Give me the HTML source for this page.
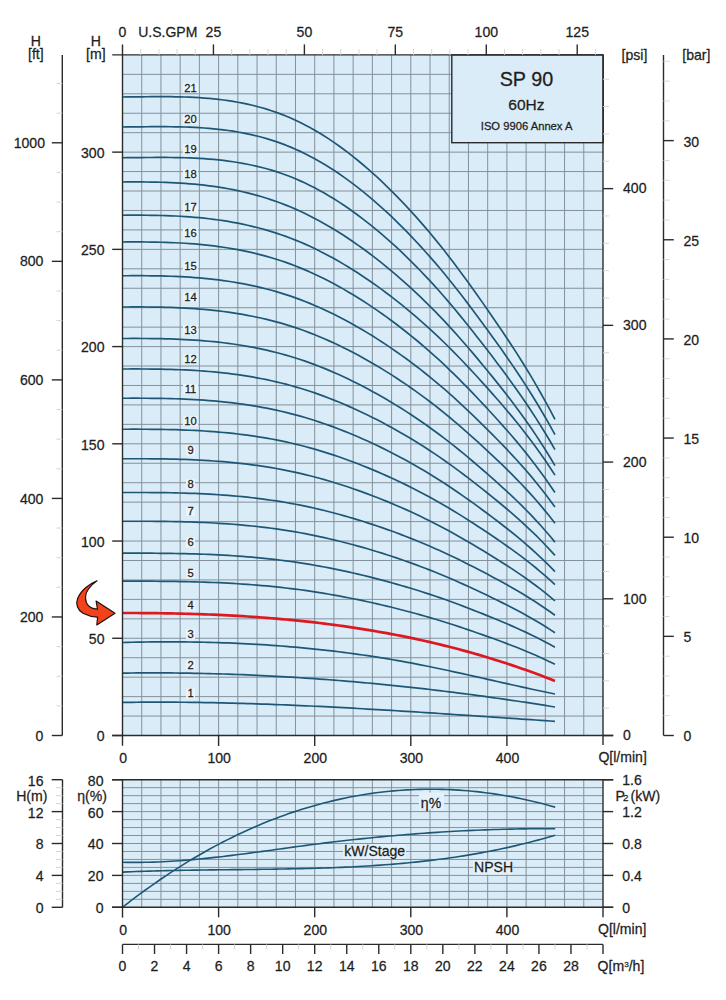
<!DOCTYPE html>
<html><head><meta charset="utf-8"><title>SP 90 60Hz</title>
<style>
html,body{margin:0;padding:0;background:#fff;}
body{width:726px;height:1000px;overflow:hidden;font-family:"Liberation Sans",sans-serif;}
svg{display:block;}
</style></head><body>
<svg width="726" height="1000" viewBox="0 0 726 1000" font-family="'Liberation Sans', sans-serif">
<rect width="726" height="1000" fill="#fff"/>
<rect x="122.5" y="54.9" width="480.5" height="680.6" fill="#daecf7"/>
<path d="M141.72 54.90V735.50M160.94 54.90V735.50M180.16 54.90V735.50M199.38 54.90V735.50M218.60 54.90V735.50M237.82 54.90V735.50M257.04 54.90V735.50M276.26 54.90V735.50M295.48 54.90V735.50M314.70 54.90V735.50M333.92 54.90V735.50M353.14 54.90V735.50M372.36 54.90V735.50M391.58 54.90V735.50M410.80 54.90V735.50M430.02 54.90V735.50M449.24 54.90V735.50M468.46 54.90V735.50M487.68 54.90V735.50M506.90 54.90V735.50M526.12 54.90V735.50M545.34 54.90V735.50M564.56 54.90V735.50M583.78 54.90V735.50M122.50 716.05H603.00M122.50 696.61H603.00M122.50 677.16H603.00M122.50 657.72H603.00M122.50 638.27H603.00M122.50 618.83H603.00M122.50 599.38H603.00M122.50 579.93H603.00M122.50 560.49H603.00M122.50 541.04H603.00M122.50 521.60H603.00M122.50 502.15H603.00M122.50 482.71H603.00M122.50 463.26H603.00M122.50 443.81H603.00M122.50 424.37H603.00M122.50 404.92H603.00M122.50 385.48H603.00M122.50 366.03H603.00M122.50 346.59H603.00M122.50 327.14H603.00M122.50 307.69H603.00M122.50 288.25H603.00M122.50 268.80H603.00M122.50 249.36H603.00M122.50 229.91H603.00M122.50 210.47H603.00M122.50 191.02H603.00M122.50 171.57H603.00M122.50 152.13H603.00M122.50 132.68H603.00M122.50 113.24H603.00M122.50 93.79H603.00M122.50 74.35H603.00" stroke="#83919c" stroke-width="1" fill="none"/>
<polyline points="122.50,702.40 127.31,702.33 132.11,702.28 136.91,702.23 141.72,702.19 146.53,702.16 151.33,702.14 156.13,702.14 160.94,702.14 165.75,702.14 170.55,702.16 175.35,702.19 180.16,702.23 184.97,702.27 189.77,702.32 194.57,702.38 199.38,702.45 204.19,702.53 208.99,702.61 213.80,702.71 218.60,702.81 223.41,702.92 228.21,703.03 233.01,703.15 237.82,703.29 242.62,703.42 247.43,703.57 252.23,703.72 257.04,703.87 261.85,704.04 266.65,704.21 271.45,704.39 276.26,704.57 281.06,704.76 285.87,704.95 290.67,705.15 295.48,705.36 300.28,705.57 305.09,705.79 309.89,706.01 314.70,706.24 319.50,706.47 324.31,706.70 329.12,706.95 333.92,707.19 338.73,707.44 343.53,707.70 348.33,707.96 353.14,708.22 357.94,708.49 362.75,708.76 367.55,709.04 372.36,709.32 377.16,709.60 381.97,709.88 386.77,710.17 391.58,710.46 396.38,710.76 401.19,711.06 406.00,711.36 410.80,711.66 415.60,711.96 420.41,712.27 425.21,712.58 430.02,712.89 434.82,713.21 439.63,713.52 444.44,713.84 449.24,714.16 454.05,714.48 458.85,714.80 463.65,715.12 468.46,715.45 473.26,715.77 478.07,716.10 482.88,716.42 487.68,716.75 492.49,717.07 497.29,717.40 502.09,717.73 506.90,718.06 511.70,718.38 516.51,718.71 521.32,719.04 526.12,719.36 530.92,719.69 535.73,720.01 540.53,720.34 545.34,720.66 550.14,720.98 554.95,721.30" fill="none" stroke="#1e5776" stroke-width="1.7" stroke-linejoin="round"/><polyline points="122.50,673.10 127.31,673.04 132.11,672.99 136.91,672.95 141.72,672.92 146.53,672.90 151.33,672.89 156.13,672.90 160.94,672.91 165.75,672.93 170.55,672.97 175.35,673.01 180.16,673.07 184.97,673.13 189.77,673.21 194.57,673.29 199.38,673.39 204.19,673.50 208.99,673.61 213.80,673.74 218.60,673.88 223.41,674.02 228.21,674.18 233.01,674.35 237.82,674.52 242.62,674.71 247.43,674.91 252.23,675.12 257.04,675.33 261.85,675.56 266.65,675.80 271.45,676.04 276.26,676.30 281.06,676.57 285.87,676.84 290.67,677.13 295.48,677.42 300.28,677.73 305.09,678.04 309.89,678.37 314.70,678.70 319.50,679.04 324.31,679.40 329.12,679.76 333.92,680.13 338.73,680.51 343.53,680.90 348.33,681.30 353.14,681.71 357.94,682.13 362.75,682.56 367.55,683.00 372.36,683.45 377.16,683.90 381.97,684.37 386.77,684.84 391.58,685.32 396.38,685.82 401.19,686.32 406.00,686.83 410.80,687.35 415.60,687.88 420.41,688.42 425.21,688.96 430.02,689.52 434.82,690.08 439.63,690.66 444.44,691.24 449.24,691.83 454.05,692.43 458.85,693.04 463.65,693.65 468.46,694.28 473.26,694.91 478.07,695.56 482.88,696.21 487.68,696.87 492.49,697.54 497.29,698.22 502.09,698.90 506.90,699.60 511.70,700.30 516.51,701.01 521.32,701.73 526.12,702.46 530.92,703.19 535.73,703.94 540.53,704.69 545.34,705.45 550.14,706.22 554.95,707.00" fill="none" stroke="#1e5776" stroke-width="1.7" stroke-linejoin="round"/><polyline points="122.50,642.50 127.31,642.38 132.11,642.26 136.91,642.16 141.72,642.08 146.53,642.01 151.33,641.95 156.13,641.90 160.94,641.87 165.75,641.85 170.55,641.85 175.35,641.86 180.16,641.89 184.97,641.93 189.77,641.98 194.57,642.05 199.38,642.13 204.19,642.23 208.99,642.35 213.80,642.48 218.60,642.62 223.41,642.78 228.21,642.96 233.01,643.15 237.82,643.36 242.62,643.59 247.43,643.83 252.23,644.09 257.04,644.36 261.85,644.66 266.65,644.97 271.45,645.29 276.26,645.64 281.06,646.00 285.87,646.38 290.67,646.78 295.48,647.19 300.28,647.62 305.09,648.08 309.89,648.55 314.70,649.03 319.50,649.54 324.31,650.07 329.12,650.61 333.92,651.18 338.73,651.76 343.53,652.37 348.33,652.99 353.14,653.63 357.94,654.30 362.75,654.98 367.55,655.68 372.36,656.41 377.16,657.15 381.97,657.92 386.77,658.70 391.58,659.51 396.38,660.34 401.19,661.19 406.00,662.06 410.80,662.95 415.60,663.87 420.41,664.80 425.21,665.76 430.02,666.73 434.82,667.72 439.63,668.72 444.44,669.74 449.24,670.77 454.05,671.81 458.85,672.86 463.65,673.92 468.46,674.99 473.26,676.07 478.07,677.14 482.88,678.23 487.68,679.31 492.49,680.40 497.29,681.48 502.09,682.57 506.90,683.65 511.70,684.72 516.51,685.79 521.32,686.86 526.12,687.91 530.92,688.96 535.73,689.99 540.53,691.02 545.34,692.03 550.14,693.02 554.95,694.00" fill="none" stroke="#1e5776" stroke-width="1.7" stroke-linejoin="round"/><polyline points="122.50,581.20 127.31,581.19 132.11,581.19 136.91,581.19 141.72,581.19 146.53,581.20 151.33,581.22 156.13,581.24 160.94,581.28 165.75,581.32 170.55,581.38 175.35,581.45 180.16,581.53 184.97,581.62 189.77,581.73 194.57,581.85 199.38,581.99 204.19,582.14 208.99,582.31 213.80,582.50 218.60,582.71 223.41,582.94 228.21,583.18 233.01,583.45 237.82,583.74 242.62,584.05 247.43,584.39 252.23,584.74 257.04,585.12 261.85,585.53 266.65,585.96 271.45,586.42 276.26,586.91 281.06,587.42 285.87,587.97 290.67,588.54 295.48,589.14 300.28,589.78 305.09,590.44 309.89,591.14 314.70,591.86 319.50,592.62 324.31,593.40 329.12,594.22 333.92,595.06 338.73,595.93 343.53,596.83 348.33,597.75 353.14,598.71 357.94,599.69 362.75,600.69 367.55,601.73 372.36,602.79 377.16,603.87 381.97,604.99 386.77,606.13 391.58,607.29 396.38,608.49 401.19,609.71 406.00,610.95 410.80,612.23 415.60,613.53 420.41,614.86 425.21,616.23 430.02,617.62 434.82,619.04 439.63,620.49 444.44,621.97 449.24,623.49 454.05,625.03 458.85,626.61 463.65,628.22 468.46,629.85 473.26,631.50 478.07,633.18 482.88,634.87 487.68,636.58 492.49,638.31 497.29,640.05 502.09,641.82 506.90,643.62 511.70,645.45 516.51,647.32 521.32,649.24 526.12,651.20 530.92,653.22 535.73,655.30 540.53,657.44 545.34,659.65 550.14,661.94 554.95,664.30" fill="none" stroke="#1e5776" stroke-width="1.7" stroke-linejoin="round"/><polyline points="122.50,553.20 127.31,553.19 132.11,553.18 136.91,553.18 141.72,553.19 146.53,553.20 151.33,553.22 156.13,553.25 160.94,553.29 165.75,553.34 170.55,553.40 175.35,553.48 180.16,553.57 184.97,553.68 189.77,553.80 194.57,553.93 199.38,554.09 204.19,554.26 208.99,554.46 213.80,554.67 218.60,554.91 223.41,555.16 228.21,555.44 233.01,555.75 237.82,556.07 242.62,556.42 247.43,556.80 252.23,557.21 257.04,557.64 261.85,558.10 266.65,558.59 271.45,559.11 276.26,559.66 281.06,560.24 285.87,560.85 290.67,561.50 295.48,562.19 300.28,562.90 305.09,563.66 309.89,564.44 314.70,565.26 319.50,566.12 324.31,567.01 329.12,567.93 333.92,568.88 338.73,569.86 343.53,570.88 348.33,571.92 353.14,573.00 357.94,574.11 362.75,575.25 367.55,576.42 372.36,577.62 377.16,578.85 381.97,580.11 386.77,581.40 391.58,582.72 396.38,584.07 401.19,585.45 406.00,586.86 410.80,588.30 415.60,589.77 420.41,591.28 425.21,592.82 430.02,594.39 434.82,596.00 439.63,597.64 444.44,599.32 449.24,601.03 454.05,602.78 458.85,604.57 463.65,606.38 468.46,608.23 473.26,610.10 478.07,611.99 482.88,613.91 487.68,615.85 492.49,617.80 497.29,619.77 502.09,621.77 506.90,623.81 511.70,625.88 516.51,628.00 521.32,630.16 526.12,632.39 530.92,634.67 535.73,637.02 540.53,639.44 545.34,641.94 550.14,644.53 554.95,647.20" fill="none" stroke="#1e5776" stroke-width="1.7" stroke-linejoin="round"/><polyline points="122.50,521.25 127.31,521.24 132.11,521.23 136.91,521.23 141.72,521.24 146.53,521.25 151.33,521.27 156.13,521.31 160.94,521.36 165.75,521.42 170.55,521.49 175.35,521.58 180.16,521.69 184.97,521.81 189.77,521.96 194.57,522.12 199.38,522.31 204.19,522.51 208.99,522.74 213.80,523.00 218.60,523.28 223.41,523.58 228.21,523.91 233.01,524.27 237.82,524.66 242.62,525.08 247.43,525.53 252.23,526.01 257.04,526.52 261.85,527.06 266.65,527.65 271.45,528.26 276.26,528.91 281.06,529.60 285.87,530.33 290.67,531.10 295.48,531.91 300.28,532.76 305.09,533.66 309.89,534.59 314.70,535.57 319.50,536.58 324.31,537.63 329.12,538.72 333.92,539.85 338.73,541.02 343.53,542.23 348.33,543.47 353.14,544.75 357.94,546.06 362.75,547.42 367.55,548.80 372.36,550.23 377.16,551.69 381.97,553.18 386.77,554.71 391.58,556.28 396.38,557.88 401.19,559.52 406.00,561.19 410.80,562.90 415.60,564.65 420.41,566.44 425.21,568.27 430.02,570.13 434.82,572.04 439.63,573.99 444.44,575.98 449.24,578.02 454.05,580.09 458.85,582.21 463.65,584.36 468.46,586.55 473.26,588.77 478.07,591.02 482.88,593.30 487.68,595.59 492.49,597.91 497.29,600.25 502.09,602.62 506.90,605.04 511.70,607.50 516.51,610.01 521.32,612.58 526.12,615.22 530.92,617.93 535.73,620.72 540.53,623.60 545.34,626.56 550.14,629.63 554.95,632.80" fill="none" stroke="#1e5776" stroke-width="1.7" stroke-linejoin="round"/><polyline points="122.50,492.50 127.31,492.49 132.11,492.48 136.91,492.48 141.72,492.49 146.53,492.50 151.33,492.53 156.13,492.57 160.94,492.62 165.75,492.68 170.55,492.77 175.35,492.87 180.16,492.98 184.97,493.12 189.77,493.28 194.57,493.46 199.38,493.66 204.19,493.89 208.99,494.14 213.80,494.42 218.60,494.73 223.41,495.07 228.21,495.43 233.01,495.83 237.82,496.25 242.62,496.71 247.43,497.21 252.23,497.74 257.04,498.30 261.85,498.90 266.65,499.54 271.45,500.22 276.26,500.94 281.06,501.70 285.87,502.50 290.67,503.35 295.48,504.24 300.28,505.18 305.09,506.16 309.89,507.19 314.70,508.26 319.50,509.38 324.31,510.53 329.12,511.74 333.92,512.98 338.73,514.27 343.53,515.59 348.33,516.96 353.14,518.37 357.94,519.82 362.75,521.30 367.55,522.83 372.36,524.40 377.16,526.01 381.97,527.65 386.77,529.34 391.58,531.06 396.38,532.82 401.19,534.63 406.00,536.47 410.80,538.35 415.60,540.28 420.41,542.25 425.21,544.26 430.02,546.31 434.82,548.41 439.63,550.56 444.44,552.75 449.24,554.99 454.05,557.28 458.85,559.61 463.65,561.98 468.46,564.39 473.26,566.83 478.07,569.31 482.88,571.81 487.68,574.34 492.49,576.89 497.29,579.47 502.09,582.08 506.90,584.74 511.70,587.45 516.51,590.21 521.32,593.04 526.12,595.95 530.92,598.93 535.73,602.00 540.53,605.17 545.34,608.43 550.14,611.81 554.95,615.30" fill="none" stroke="#1e5776" stroke-width="1.7" stroke-linejoin="round"/><polyline points="122.50,458.75 127.31,458.74 132.11,458.73 136.91,458.73 141.72,458.73 146.53,458.75 151.33,458.78 156.13,458.83 160.94,458.89 165.75,458.96 170.55,459.06 175.35,459.17 180.16,459.31 184.97,459.47 189.77,459.65 194.57,459.86 199.38,460.10 204.19,460.36 208.99,460.65 213.80,460.98 218.60,461.33 223.41,461.72 228.21,462.14 233.01,462.60 237.82,463.09 242.62,463.63 247.43,464.20 252.23,464.81 257.04,465.46 261.85,466.16 266.65,466.90 271.45,467.68 276.26,468.52 281.06,469.40 285.87,470.33 290.67,471.31 295.48,472.34 300.28,473.42 305.09,474.56 309.89,475.75 314.70,476.99 319.50,478.28 324.31,479.63 329.12,481.02 333.92,482.46 338.73,483.95 343.53,485.48 348.33,487.06 353.14,488.69 357.94,490.37 362.75,492.09 367.55,493.86 372.36,495.68 377.16,497.54 381.97,499.44 386.77,501.39 391.58,503.39 396.38,505.43 401.19,507.51 406.00,509.65 410.80,511.83 415.60,514.06 420.41,516.34 425.21,518.66 430.02,521.04 434.82,523.47 439.63,525.96 444.44,528.50 449.24,531.09 454.05,533.73 458.85,536.43 463.65,539.18 468.46,541.97 473.26,544.80 478.07,547.66 482.88,550.56 487.68,553.48 492.49,556.44 497.29,559.42 502.09,562.45 506.90,565.52 511.70,568.66 516.51,571.86 521.32,575.14 526.12,578.50 530.92,581.95 535.73,585.51 540.53,589.17 545.34,592.95 550.14,596.86 554.95,600.90" fill="none" stroke="#1e5776" stroke-width="1.7" stroke-linejoin="round"/><polyline points="122.50,429.25 127.31,429.23 132.11,429.22 136.91,429.22 141.72,429.23 146.53,429.25 151.33,429.28 156.13,429.33 160.94,429.40 165.75,429.48 170.55,429.59 175.35,429.71 180.16,429.86 184.97,430.04 189.77,430.24 194.57,430.46 199.38,430.72 204.19,431.01 208.99,431.33 213.80,431.68 218.60,432.07 223.41,432.50 228.21,432.96 233.01,433.46 237.82,434.00 242.62,434.58 247.43,435.20 252.23,435.87 257.04,436.59 261.85,437.35 266.65,438.16 271.45,439.01 276.26,439.92 281.06,440.89 285.87,441.90 290.67,442.97 295.48,444.10 300.28,445.29 305.09,446.53 309.89,447.83 314.70,449.19 319.50,450.60 324.31,452.07 329.12,453.59 333.92,455.16 338.73,456.79 343.53,458.46 348.33,460.19 353.14,461.97 357.94,463.81 362.75,465.69 367.55,467.62 372.36,469.60 377.16,471.64 381.97,473.72 386.77,475.85 391.58,478.03 396.38,480.26 401.19,482.54 406.00,484.87 410.80,487.26 415.60,489.69 420.41,492.18 425.21,494.73 430.02,497.33 434.82,499.98 439.63,502.70 444.44,505.47 449.24,508.30 454.05,511.20 458.85,514.14 463.65,517.15 468.46,520.19 473.26,523.29 478.07,526.42 482.88,529.58 487.68,532.78 492.49,536.01 497.29,539.27 502.09,542.58 506.90,545.94 511.70,549.36 516.51,552.86 521.32,556.44 526.12,560.12 530.92,563.89 535.73,567.78 540.53,571.78 545.34,575.91 550.14,580.18 554.95,584.60" fill="none" stroke="#1e5776" stroke-width="1.7" stroke-linejoin="round"/><polyline points="122.50,398.25 127.31,398.23 132.11,398.22 136.91,398.22 141.72,398.23 146.53,398.25 151.33,398.29 156.13,398.34 160.94,398.42 165.75,398.51 170.55,398.62 175.35,398.77 180.16,398.93 184.97,399.13 189.77,399.35 194.57,399.60 199.38,399.89 204.19,400.21 208.99,400.57 213.80,400.96 218.60,401.40 223.41,401.87 228.21,402.39 233.01,402.95 237.82,403.55 242.62,404.20 247.43,404.89 252.23,405.64 257.04,406.44 261.85,407.29 266.65,408.19 271.45,409.15 276.26,410.16 281.06,411.23 285.87,412.37 290.67,413.56 295.48,414.82 300.28,416.14 305.09,417.53 309.89,418.98 314.70,420.50 319.50,422.07 324.31,423.71 329.12,425.41 333.92,427.16 338.73,428.98 343.53,430.85 348.33,432.78 353.14,434.77 357.94,436.81 362.75,438.91 367.55,441.07 372.36,443.28 377.16,445.55 381.97,447.87 386.77,450.25 391.58,452.68 396.38,455.17 401.19,457.72 406.00,460.32 410.80,462.98 415.60,465.70 420.41,468.47 425.21,471.31 430.02,474.22 434.82,477.18 439.63,480.21 444.44,483.30 449.24,486.46 454.05,489.69 458.85,492.98 463.65,496.33 468.46,499.73 473.26,503.18 478.07,506.68 482.88,510.21 487.68,513.78 492.49,517.38 497.29,521.02 502.09,524.71 506.90,528.46 511.70,532.28 516.51,536.19 521.32,540.18 526.12,544.28 530.92,548.49 535.73,552.83 540.53,557.30 545.34,561.91 550.14,566.67 554.95,571.60" fill="none" stroke="#1e5776" stroke-width="1.7" stroke-linejoin="round"/><polyline points="122.50,369.00 127.31,368.98 132.11,368.97 136.91,368.97 141.72,368.98 146.53,369.00 151.33,369.04 156.13,369.10 160.94,369.18 165.75,369.28 170.55,369.40 175.35,369.55 180.16,369.73 184.97,369.94 189.77,370.18 194.57,370.46 199.38,370.77 204.19,371.11 208.99,371.50 213.80,371.92 218.60,372.39 223.41,372.89 228.21,373.45 233.01,374.05 237.82,374.70 242.62,375.40 247.43,376.14 252.23,376.95 257.04,377.80 261.85,378.72 266.65,379.69 271.45,380.72 276.26,381.81 281.06,382.96 285.87,384.18 290.67,385.46 295.48,386.82 300.28,388.24 305.09,389.73 309.89,391.29 314.70,392.92 319.50,394.62 324.31,396.38 329.12,398.20 333.92,400.09 338.73,402.04 343.53,404.05 348.33,406.13 353.14,408.27 357.94,410.46 362.75,412.72 367.55,415.04 372.36,417.42 377.16,419.86 381.97,422.36 386.77,424.91 391.58,427.53 396.38,430.21 401.19,432.94 406.00,435.74 410.80,438.60 415.60,441.52 420.41,444.51 425.21,447.56 430.02,450.68 434.82,453.87 439.63,457.13 444.44,460.46 449.24,463.85 454.05,467.32 458.85,470.86 463.65,474.46 468.46,478.12 473.26,481.83 478.07,485.59 482.88,489.39 487.68,493.22 492.49,497.09 497.29,501.01 502.09,504.98 506.90,509.01 511.70,513.12 516.51,517.32 521.32,521.62 526.12,526.02 530.92,530.55 535.73,535.21 540.53,540.02 545.34,544.98 550.14,550.10 554.95,555.40" fill="none" stroke="#1e5776" stroke-width="1.7" stroke-linejoin="round"/><polyline points="122.50,338.50 127.31,338.48 132.11,338.47 136.91,338.46 141.72,338.48 146.53,338.50 151.33,338.54 156.13,338.61 160.94,338.69 165.75,338.80 170.55,338.94 175.35,339.11 180.16,339.30 184.97,339.53 189.77,339.79 194.57,340.09 199.38,340.43 204.19,340.81 208.99,341.23 213.80,341.69 218.60,342.20 223.41,342.75 228.21,343.36 233.01,344.01 237.82,344.72 242.62,345.49 247.43,346.30 252.23,347.18 257.04,348.12 261.85,349.11 266.65,350.17 271.45,351.30 276.26,352.49 281.06,353.75 285.87,355.08 290.67,356.48 295.48,357.96 300.28,359.52 305.09,361.15 309.89,362.85 314.70,364.63 319.50,366.48 324.31,368.40 329.12,370.39 333.92,372.46 338.73,374.59 343.53,376.79 348.33,379.05 353.14,381.39 357.94,383.79 362.75,386.26 367.55,388.79 372.36,391.39 377.16,394.05 381.97,396.78 386.77,399.57 391.58,402.43 396.38,405.36 401.19,408.34 406.00,411.40 410.80,414.52 415.60,417.72 420.41,420.98 425.21,424.31 430.02,427.72 434.82,431.20 439.63,434.76 444.44,438.40 449.24,442.11 454.05,445.90 458.85,449.76 463.65,453.69 468.46,457.69 473.26,461.74 478.07,465.85 482.88,470.00 487.68,474.19 492.49,478.41 497.29,482.69 502.09,487.02 506.90,491.43 511.70,495.92 516.51,500.51 521.32,505.20 526.12,510.01 530.92,514.96 535.73,520.05 540.53,525.30 545.34,530.72 550.14,536.31 554.95,542.10" fill="none" stroke="#1e5776" stroke-width="1.7" stroke-linejoin="round"/><polyline points="122.50,307.00 127.31,306.98 132.11,306.96 136.91,306.96 141.72,306.97 146.53,307.00 151.33,307.05 156.13,307.12 160.94,307.21 165.75,307.32 170.55,307.47 175.35,307.64 180.16,307.85 184.97,308.09 189.77,308.37 194.57,308.69 199.38,309.05 204.19,309.45 208.99,309.89 213.80,310.39 218.60,310.93 223.41,311.52 228.21,312.16 233.01,312.86 237.82,313.61 242.62,314.42 247.43,315.29 252.23,316.22 257.04,317.21 261.85,318.27 266.65,319.39 271.45,320.59 276.26,321.85 281.06,323.19 285.87,324.61 290.67,326.10 295.48,327.67 300.28,329.32 305.09,331.05 309.89,332.86 314.70,334.75 319.50,336.71 324.31,338.75 329.12,340.87 333.92,343.06 338.73,345.32 343.53,347.66 348.33,350.06 353.14,352.54 357.94,355.09 362.75,357.71 367.55,360.40 372.36,363.16 377.16,365.99 381.97,368.89 386.77,371.85 391.58,374.89 396.38,377.99 401.19,381.17 406.00,384.41 410.80,387.73 415.60,391.12 420.41,394.58 425.21,398.12 430.02,401.74 434.82,405.44 439.63,409.22 444.44,413.08 449.24,417.02 454.05,421.04 458.85,425.15 463.65,429.32 468.46,433.57 473.26,437.87 478.07,442.23 482.88,446.63 487.68,451.08 492.49,455.57 497.29,460.11 502.09,464.72 506.90,469.39 511.70,474.16 516.51,479.03 521.32,484.02 526.12,489.13 530.92,494.38 535.73,499.79 540.53,505.36 545.34,511.11 550.14,517.05 554.95,523.20" fill="none" stroke="#1e5776" stroke-width="1.7" stroke-linejoin="round"/><polyline points="122.50,275.75 127.31,275.73 132.11,275.71 136.91,275.71 141.72,275.72 146.53,275.75 151.33,275.80 156.13,275.87 160.94,275.97 165.75,276.10 170.55,276.25 175.35,276.44 180.16,276.66 184.97,276.92 189.77,277.22 194.57,277.56 199.38,277.94 204.19,278.37 208.99,278.85 213.80,279.37 218.60,279.95 223.41,280.58 228.21,281.27 233.01,282.01 237.82,282.82 242.62,283.68 247.43,284.61 252.23,285.61 257.04,286.67 261.85,287.80 266.65,289.01 271.45,290.29 276.26,291.64 281.06,293.07 285.87,294.58 290.67,296.18 295.48,297.86 300.28,299.62 305.09,301.47 309.89,303.41 314.70,305.43 319.50,307.53 324.31,309.71 329.12,311.98 333.92,314.32 338.73,316.74 343.53,319.24 348.33,321.81 353.14,324.46 357.94,327.19 362.75,329.99 367.55,332.87 372.36,335.82 377.16,338.85 381.97,341.95 386.77,345.12 391.58,348.36 396.38,351.68 401.19,355.08 406.00,358.55 410.80,362.10 415.60,365.72 420.41,369.43 425.21,373.22 430.02,377.09 434.82,381.04 439.63,385.08 444.44,389.21 449.24,393.43 454.05,397.73 458.85,402.12 463.65,406.59 468.46,411.13 473.26,415.73 478.07,420.39 482.88,425.10 487.68,429.86 492.49,434.67 497.29,439.52 502.09,444.44 506.90,449.45 511.70,454.55 516.51,459.76 521.32,465.09 526.12,470.56 530.92,476.17 535.73,481.96 540.53,487.92 545.34,494.07 550.14,500.43 554.95,507.00" fill="none" stroke="#1e5776" stroke-width="1.7" stroke-linejoin="round"/><polyline points="122.50,242.00 127.31,241.97 132.11,241.96 136.91,241.96 141.72,241.97 146.53,242.00 151.33,242.06 156.13,242.13 160.94,242.24 165.75,242.37 170.55,242.54 175.35,242.75 180.16,242.99 184.97,243.27 189.77,243.59 194.57,243.96 199.38,244.37 204.19,244.84 208.99,245.35 213.80,245.92 218.60,246.55 223.41,247.24 228.21,247.98 233.01,248.79 237.82,249.66 242.62,250.60 247.43,251.60 252.23,252.68 257.04,253.83 261.85,255.06 266.65,256.37 271.45,257.75 276.26,259.22 281.06,260.77 285.87,262.41 290.67,264.14 295.48,265.95 300.28,267.87 305.09,269.87 309.89,271.97 314.70,274.16 319.50,276.44 324.31,278.80 329.12,281.26 333.92,283.79 338.73,286.42 343.53,289.13 348.33,291.92 353.14,294.79 357.94,297.74 362.75,300.78 367.55,303.90 372.36,307.10 377.16,310.38 381.97,313.73 386.77,317.17 391.58,320.69 396.38,324.29 401.19,327.97 406.00,331.73 410.80,335.57 415.60,339.50 420.41,343.52 425.21,347.62 430.02,351.82 434.82,356.10 439.63,360.48 444.44,364.96 449.24,369.52 454.05,374.19 458.85,378.95 463.65,383.79 468.46,388.70 473.26,393.69 478.07,398.74 482.88,403.85 487.68,409.01 492.49,414.21 497.29,419.48 502.09,424.81 506.90,430.23 511.70,435.76 516.51,441.40 521.32,447.18 526.12,453.11 530.92,459.20 535.73,465.46 540.53,471.92 545.34,478.59 550.14,485.48 554.95,492.60" fill="none" stroke="#1e5776" stroke-width="1.7" stroke-linejoin="round"/><polyline points="122.50,215.25 127.31,215.22 132.11,215.21 136.91,215.21 141.72,215.22 146.53,215.25 151.33,215.31 156.13,215.39 160.94,215.50 165.75,215.64 170.55,215.81 175.35,216.02 180.16,216.27 184.97,216.56 189.77,216.90 194.57,217.28 199.38,217.71 204.19,218.19 208.99,218.73 213.80,219.32 218.60,219.97 223.41,220.68 228.21,221.45 233.01,222.29 237.82,223.19 242.62,224.16 247.43,225.21 252.23,226.33 257.04,227.52 261.85,228.79 266.65,230.15 271.45,231.58 276.26,233.10 281.06,234.71 285.87,236.41 290.67,238.20 295.48,240.09 300.28,242.07 305.09,244.15 309.89,246.33 314.70,248.60 319.50,250.96 324.31,253.41 329.12,255.96 333.92,258.59 338.73,261.31 343.53,264.11 348.33,267.01 353.14,269.99 357.94,273.05 362.75,276.20 367.55,279.43 372.36,282.75 377.16,286.15 381.97,289.63 386.77,293.20 391.58,296.85 396.38,300.58 401.19,304.39 406.00,308.29 410.80,312.28 415.60,316.35 420.41,320.52 425.21,324.77 430.02,329.12 434.82,333.57 439.63,338.11 444.44,342.74 449.24,347.48 454.05,352.32 458.85,357.25 463.65,362.27 468.46,367.37 473.26,372.54 478.07,377.78 482.88,383.08 487.68,388.42 492.49,393.82 497.29,399.28 502.09,404.81 506.90,410.43 511.70,416.16 516.51,422.01 521.32,428.00 526.12,434.15 530.92,440.46 535.73,446.96 540.53,453.66 545.34,460.57 550.14,467.71 554.95,475.10" fill="none" stroke="#1e5776" stroke-width="1.7" stroke-linejoin="round"/><polyline points="122.50,182.00 127.31,181.97 132.11,181.95 136.91,181.95 141.72,181.97 146.53,182.00 151.33,182.06 156.13,182.15 160.94,182.27 165.75,182.42 170.55,182.61 175.35,182.84 180.16,183.12 184.97,183.43 189.77,183.80 194.57,184.22 199.38,184.69 204.19,185.21 208.99,185.80 213.80,186.44 218.60,187.15 223.41,187.92 228.21,188.77 233.01,189.68 237.82,190.67 242.62,191.73 247.43,192.87 252.23,194.09 257.04,195.39 261.85,196.78 266.65,198.26 271.45,199.83 276.26,201.49 281.06,203.24 285.87,205.10 290.67,207.05 295.48,209.11 300.28,211.27 305.09,213.55 309.89,215.92 314.70,218.40 319.50,220.97 324.31,223.65 329.12,226.43 333.92,229.30 338.73,232.27 343.53,235.33 348.33,238.49 353.14,241.74 357.94,245.09 362.75,248.52 367.55,252.05 372.36,255.67 377.16,259.38 381.97,263.18 386.77,267.07 391.58,271.05 396.38,275.12 401.19,279.29 406.00,283.54 410.80,287.90 415.60,292.34 420.41,296.89 425.21,301.53 430.02,306.28 434.82,311.13 439.63,316.08 444.44,321.15 449.24,326.32 454.05,331.60 458.85,336.98 463.65,342.46 468.46,348.02 473.26,353.67 478.07,359.38 482.88,365.17 487.68,371.00 492.49,376.89 497.29,382.85 502.09,388.88 506.90,395.02 511.70,401.27 516.51,407.66 521.32,414.20 526.12,420.91 530.92,427.80 535.73,434.89 540.53,442.20 545.34,449.74 550.14,457.54 554.95,465.60" fill="none" stroke="#1e5776" stroke-width="1.7" stroke-linejoin="round"/><polyline points="122.50,157.75 127.31,157.71 132.11,157.67 136.91,157.62 141.72,157.57 146.53,157.52 151.33,157.49 156.13,157.46 160.94,157.45 165.75,157.46 170.55,157.49 175.35,157.55 180.16,157.64 184.97,157.76 189.77,157.93 194.57,158.13 199.38,158.38 204.19,158.68 208.99,159.03 213.80,159.44 218.60,159.91 223.41,160.45 228.21,161.05 233.01,161.72 237.82,162.47 242.62,163.30 247.43,164.22 252.23,165.22 257.04,166.31 261.85,167.50 266.65,168.78 271.45,170.17 276.26,171.66 281.06,173.27 285.87,174.98 290.67,176.82 295.48,178.78 300.28,180.86 305.09,183.06 309.89,185.39 314.70,187.84 319.50,190.41 324.31,193.10 329.12,195.91 333.92,198.84 338.73,201.88 343.53,205.04 348.33,208.32 353.14,211.71 357.94,215.22 362.75,218.84 367.55,222.57 372.36,226.41 377.16,230.36 381.97,234.42 386.77,238.59 391.58,242.86 396.38,247.24 401.19,251.73 406.00,256.32 410.80,261.03 415.60,265.84 420.41,270.76 425.21,275.79 430.02,280.93 434.82,286.18 439.63,291.54 444.44,297.01 449.24,302.60 454.05,308.30 458.85,314.10 463.65,320.00 468.46,325.98 473.26,332.04 478.07,338.16 482.88,344.34 487.68,350.58 492.49,356.85 497.29,363.18 502.09,369.58 506.90,376.08 511.70,382.68 516.51,389.40 521.32,396.26 526.12,403.28 530.92,410.47 535.73,417.85 540.53,425.43 545.34,433.24 550.14,441.29 554.95,449.60" fill="none" stroke="#1e5776" stroke-width="1.7" stroke-linejoin="round"/><polyline points="122.50,127.00 127.31,126.96 132.11,126.91 136.91,126.86 141.72,126.81 146.53,126.76 151.33,126.72 156.13,126.69 160.94,126.68 165.75,126.69 170.55,126.73 175.35,126.79 180.16,126.89 184.97,127.02 189.77,127.19 194.57,127.40 199.38,127.66 204.19,127.98 208.99,128.35 213.80,128.78 218.60,129.28 223.41,129.84 228.21,130.48 233.01,131.19 237.82,131.98 242.62,132.86 247.43,133.82 252.23,134.87 257.04,136.03 261.85,137.28 266.65,138.63 271.45,140.09 276.26,141.67 281.06,143.36 285.87,145.17 290.67,147.10 295.48,149.17 300.28,151.36 305.09,153.68 309.89,156.14 314.70,158.72 319.50,161.43 324.31,164.27 329.12,167.23 333.92,170.32 338.73,173.53 343.53,176.86 348.33,180.32 353.14,183.89 357.94,187.59 362.75,191.41 367.55,195.34 372.36,199.39 377.16,203.55 381.97,207.83 386.77,212.23 391.58,216.73 396.38,221.35 401.19,226.08 406.00,230.93 410.80,235.89 415.60,240.96 420.41,246.14 425.21,251.45 430.02,256.87 434.82,262.40 439.63,268.05 444.44,273.83 449.24,279.72 454.05,285.72 458.85,291.84 463.65,298.06 468.46,304.36 473.26,310.75 478.07,317.21 482.88,323.73 487.68,330.30 492.49,336.91 497.29,343.59 502.09,350.34 506.90,357.18 511.70,364.14 516.51,371.23 521.32,378.46 526.12,385.86 530.92,393.44 535.73,401.22 540.53,409.22 545.34,417.46 550.14,425.94 554.95,434.70" fill="none" stroke="#1e5776" stroke-width="1.7" stroke-linejoin="round"/><polyline points="122.50,97.00 127.31,96.96 132.11,96.91 136.91,96.85 141.72,96.80 146.53,96.75 151.33,96.71 156.13,96.68 160.94,96.67 165.75,96.68 170.55,96.72 175.35,96.78 180.16,96.88 184.97,97.02 189.77,97.20 194.57,97.42 199.38,97.70 204.19,98.03 208.99,98.42 213.80,98.87 218.60,99.39 223.41,99.98 228.21,100.64 233.01,101.39 237.82,102.22 242.62,103.14 247.43,104.14 252.23,105.25 257.04,106.46 261.85,107.77 266.65,109.19 271.45,110.72 276.26,112.37 281.06,114.14 285.87,116.04 290.67,118.07 295.48,120.23 300.28,122.52 305.09,124.96 309.89,127.53 314.70,130.23 319.50,133.07 324.31,136.05 329.12,139.15 333.92,142.39 338.73,145.75 343.53,149.24 348.33,152.86 353.14,156.61 357.94,160.48 362.75,164.48 367.55,168.60 372.36,172.85 377.16,177.21 381.97,181.69 386.77,186.30 391.58,191.02 396.38,195.86 401.19,200.82 406.00,205.89 410.80,211.09 415.60,216.40 420.41,221.84 425.21,227.39 430.02,233.07 434.82,238.87 439.63,244.79 444.44,250.84 449.24,257.01 454.05,263.31 458.85,269.72 463.65,276.23 468.46,282.84 473.26,289.53 478.07,296.30 482.88,303.13 487.68,310.01 492.49,316.94 497.29,323.94 502.09,331.01 506.90,338.18 511.70,345.47 516.51,352.90 521.32,360.48 526.12,368.23 530.92,376.17 535.73,384.32 540.53,392.71 545.34,401.33 550.14,410.22 554.95,419.40" fill="none" stroke="#1e5776" stroke-width="1.7" stroke-linejoin="round"/>
<polyline points="122.50,613.00 127.31,613.00 132.11,613.01 136.91,613.02 141.72,613.05 146.53,613.08 151.33,613.12 156.13,613.18 160.94,613.24 165.75,613.32 170.55,613.40 175.35,613.50 180.16,613.61 184.97,613.73 189.77,613.86 194.57,614.01 199.38,614.16 204.19,614.33 208.99,614.52 213.80,614.71 218.60,614.92 223.41,615.15 228.21,615.39 233.01,615.64 237.82,615.91 242.62,616.19 247.43,616.49 252.23,616.81 257.04,617.14 261.85,617.49 266.65,617.85 271.45,618.23 276.26,618.63 281.06,619.04 285.87,619.48 290.67,619.93 295.48,620.40 300.28,620.89 305.09,621.39 309.89,621.92 314.70,622.46 319.50,623.03 324.31,623.61 329.12,624.22 333.92,624.85 338.73,625.49 343.53,626.16 348.33,626.85 353.14,627.56 357.94,628.30 362.75,629.05 367.55,629.83 372.36,630.63 377.16,631.46 381.97,632.31 386.77,633.18 391.58,634.08 396.38,635.00 401.19,635.94 406.00,636.91 410.80,637.91 415.60,638.93 420.41,639.97 425.21,641.05 430.02,642.15 434.82,643.27 439.63,644.42 444.44,645.60 449.24,646.81 454.05,648.05 458.85,649.31 463.65,650.60 468.46,651.92 473.26,653.27 478.07,654.65 482.88,656.05 487.68,657.49 492.49,658.96 497.29,660.46 502.09,661.98 506.90,663.54 511.70,665.13 516.51,666.76 521.32,668.41 526.12,670.10 530.92,671.81 535.73,673.56 540.53,675.35 545.34,677.17 550.14,679.02 554.95,680.90" fill="none" stroke="#dc1820" stroke-width="2.7" stroke-linejoin="round"/>
<rect x="186.0" y="688.6" width="9" height="10" fill="#eaf4fa"/>
<text transform="translate(190.50,697.38) scale(1.02,1)" font-size="11" text-anchor="middle" fill="#1e1e1e" stroke="#1e1e1e" stroke-width="0.25" >1</text>
<rect x="186.0" y="660.0" width="9" height="10" fill="#eaf4fa"/>
<text transform="translate(190.50,668.78) scale(1.02,1)" font-size="11" text-anchor="middle" fill="#1e1e1e" stroke="#1e1e1e" stroke-width="0.25" >2</text>
<rect x="186.0" y="629.3" width="9" height="10" fill="#eaf4fa"/>
<text transform="translate(190.50,638.08) scale(1.02,1)" font-size="11" text-anchor="middle" fill="#1e1e1e" stroke="#1e1e1e" stroke-width="0.25" >3</text>
<rect x="186.0" y="600.7" width="9" height="10" fill="#eaf4fa"/>
<text transform="translate(190.50,609.48) scale(1.02,1)" font-size="11" text-anchor="middle" fill="#1e1e1e" stroke="#1e1e1e" stroke-width="0.25" >4</text>
<rect x="186.0" y="568.5" width="9" height="10" fill="#eaf4fa"/>
<text transform="translate(190.50,577.28) scale(1.02,1)" font-size="11" text-anchor="middle" fill="#1e1e1e" stroke="#1e1e1e" stroke-width="0.25" >5</text>
<rect x="186.0" y="537.6" width="9" height="10" fill="#eaf4fa"/>
<text transform="translate(190.50,546.38) scale(1.02,1)" font-size="11" text-anchor="middle" fill="#1e1e1e" stroke="#1e1e1e" stroke-width="0.25" >6</text>
<rect x="186.0" y="506.2" width="9" height="10" fill="#eaf4fa"/>
<text transform="translate(190.50,515.03) scale(1.02,1)" font-size="11" text-anchor="middle" fill="#1e1e1e" stroke="#1e1e1e" stroke-width="0.25" >7</text>
<rect x="186.0" y="478.8" width="9" height="10" fill="#eaf4fa"/>
<text transform="translate(190.50,487.53) scale(1.02,1)" font-size="11" text-anchor="middle" fill="#1e1e1e" stroke="#1e1e1e" stroke-width="0.25" >8</text>
<rect x="186.0" y="445.5" width="9" height="10" fill="#eaf4fa"/>
<text transform="translate(190.50,454.28) scale(1.02,1)" font-size="11" text-anchor="middle" fill="#1e1e1e" stroke="#1e1e1e" stroke-width="0.25" >9</text>
<rect x="183.0" y="415.8" width="15" height="10" fill="#eaf4fa"/>
<text transform="translate(190.50,424.53) scale(1.02,1)" font-size="11" text-anchor="middle" fill="#1e1e1e" stroke="#1e1e1e" stroke-width="0.25" >10</text>
<rect x="183.0" y="383.8" width="15" height="10" fill="#eaf4fa"/>
<text transform="translate(190.50,392.53) scale(1.02,1)" font-size="11" text-anchor="middle" fill="#1e1e1e" stroke="#1e1e1e" stroke-width="0.25" >11</text>
<rect x="183.0" y="354.0" width="15" height="10" fill="#eaf4fa"/>
<text transform="translate(190.50,362.78) scale(1.02,1)" font-size="11" text-anchor="middle" fill="#1e1e1e" stroke="#1e1e1e" stroke-width="0.25" >12</text>
<rect x="183.0" y="325.0" width="15" height="10" fill="#eaf4fa"/>
<text transform="translate(190.50,333.78) scale(1.02,1)" font-size="11" text-anchor="middle" fill="#1e1e1e" stroke="#1e1e1e" stroke-width="0.25" >13</text>
<rect x="183.0" y="292.0" width="15" height="10" fill="#eaf4fa"/>
<text transform="translate(190.50,300.78) scale(1.02,1)" font-size="11" text-anchor="middle" fill="#1e1e1e" stroke="#1e1e1e" stroke-width="0.25" >14</text>
<rect x="183.0" y="261.2" width="15" height="10" fill="#eaf4fa"/>
<text transform="translate(190.50,270.03) scale(1.02,1)" font-size="11" text-anchor="middle" fill="#1e1e1e" stroke="#1e1e1e" stroke-width="0.25" >15</text>
<rect x="183.0" y="228.0" width="15" height="10" fill="#eaf4fa"/>
<text transform="translate(190.50,236.78) scale(1.02,1)" font-size="11" text-anchor="middle" fill="#1e1e1e" stroke="#1e1e1e" stroke-width="0.25" >16</text>
<rect x="183.0" y="202.5" width="15" height="10" fill="#eaf4fa"/>
<text transform="translate(190.50,211.28) scale(1.02,1)" font-size="11" text-anchor="middle" fill="#1e1e1e" stroke="#1e1e1e" stroke-width="0.25" >17</text>
<rect x="183.0" y="168.8" width="15" height="10" fill="#eaf4fa"/>
<text transform="translate(190.50,177.53) scale(1.02,1)" font-size="11" text-anchor="middle" fill="#1e1e1e" stroke="#1e1e1e" stroke-width="0.25" >18</text>
<rect x="183.0" y="143.8" width="15" height="10" fill="#eaf4fa"/>
<text transform="translate(190.50,152.53) scale(1.02,1)" font-size="11" text-anchor="middle" fill="#1e1e1e" stroke="#1e1e1e" stroke-width="0.25" >19</text>
<rect x="183.0" y="114.3" width="15" height="10" fill="#eaf4fa"/>
<text transform="translate(190.50,123.08) scale(1.02,1)" font-size="11" text-anchor="middle" fill="#1e1e1e" stroke="#1e1e1e" stroke-width="0.25" >20</text>
<rect x="183.0" y="82.9" width="15" height="10" fill="#eaf4fa"/>
<text transform="translate(190.50,91.68) scale(1.02,1)" font-size="11" text-anchor="middle" fill="#1e1e1e" stroke="#1e1e1e" stroke-width="0.25" >21</text>
<rect x="451.8" y="54.9" width="151.4" height="87.8" fill="#daecf7" stroke="#2b2b2b" stroke-width="1.4"/>
<text transform="translate(526.40,85.90) scale(1.02,1)" font-size="19.4" text-anchor="middle" fill="#1e1e1e" stroke="#1e1e1e" stroke-width="0.25" >SP 90</text>
<text transform="translate(526.40,109.80) scale(1.02,1)" font-size="15.2" text-anchor="middle" fill="#1e1e1e" stroke="#1e1e1e" stroke-width="0.25" >60Hz</text>
<text transform="translate(526.60,130.00) scale(1.02,1)" font-size="11" text-anchor="middle" fill="#1e1e1e" stroke="#1e1e1e" stroke-width="0.25" >ISO 9906 Annex A</text>
<line x1="122.50" y1="44.40" x2="122.50" y2="745.80" stroke="#2b2b2b" stroke-width="1.4" />
<line x1="112.20" y1="54.90" x2="603.00" y2="54.90" stroke="#2b2b2b" stroke-width="1.4" />
<line x1="112.20" y1="735.50" x2="613.20" y2="735.50" stroke="#2b2b2b" stroke-width="1.4" />
<line x1="603.00" y1="54.90" x2="603.00" y2="745.00" stroke="#2b2b2b" stroke-width="1.4" />
<line x1="140.69" y1="49.00" x2="140.69" y2="54.90" stroke="#d6d6d6" stroke-width="1" />
<line x1="158.88" y1="49.00" x2="158.88" y2="54.90" stroke="#d6d6d6" stroke-width="1" />
<line x1="177.07" y1="49.00" x2="177.07" y2="54.90" stroke="#d6d6d6" stroke-width="1" />
<line x1="195.26" y1="49.00" x2="195.26" y2="54.90" stroke="#d6d6d6" stroke-width="1" />
<line x1="213.44" y1="44.40" x2="213.44" y2="54.90" stroke="#2b2b2b" stroke-width="1.4" />
<line x1="231.63" y1="49.00" x2="231.63" y2="54.90" stroke="#d6d6d6" stroke-width="1" />
<line x1="249.82" y1="49.00" x2="249.82" y2="54.90" stroke="#d6d6d6" stroke-width="1" />
<line x1="268.01" y1="49.00" x2="268.01" y2="54.90" stroke="#d6d6d6" stroke-width="1" />
<line x1="286.20" y1="49.00" x2="286.20" y2="54.90" stroke="#d6d6d6" stroke-width="1" />
<line x1="304.39" y1="44.40" x2="304.39" y2="54.90" stroke="#2b2b2b" stroke-width="1.4" />
<line x1="322.58" y1="49.00" x2="322.58" y2="54.90" stroke="#d6d6d6" stroke-width="1" />
<line x1="340.77" y1="49.00" x2="340.77" y2="54.90" stroke="#d6d6d6" stroke-width="1" />
<line x1="358.96" y1="49.00" x2="358.96" y2="54.90" stroke="#d6d6d6" stroke-width="1" />
<line x1="377.14" y1="49.00" x2="377.14" y2="54.90" stroke="#d6d6d6" stroke-width="1" />
<line x1="395.33" y1="44.40" x2="395.33" y2="54.90" stroke="#2b2b2b" stroke-width="1.4" />
<line x1="413.52" y1="49.00" x2="413.52" y2="54.90" stroke="#d6d6d6" stroke-width="1" />
<line x1="431.71" y1="49.00" x2="431.71" y2="54.90" stroke="#d6d6d6" stroke-width="1" />
<line x1="449.90" y1="49.00" x2="449.90" y2="54.90" stroke="#d6d6d6" stroke-width="1" />
<line x1="468.09" y1="49.00" x2="468.09" y2="54.90" stroke="#d6d6d6" stroke-width="1" />
<line x1="486.28" y1="44.40" x2="486.28" y2="54.90" stroke="#2b2b2b" stroke-width="1.4" />
<line x1="504.47" y1="49.00" x2="504.47" y2="54.90" stroke="#d6d6d6" stroke-width="1" />
<line x1="522.66" y1="49.00" x2="522.66" y2="54.90" stroke="#d6d6d6" stroke-width="1" />
<line x1="540.84" y1="49.00" x2="540.84" y2="54.90" stroke="#d6d6d6" stroke-width="1" />
<line x1="559.03" y1="49.00" x2="559.03" y2="54.90" stroke="#d6d6d6" stroke-width="1" />
<line x1="577.22" y1="44.40" x2="577.22" y2="54.90" stroke="#2b2b2b" stroke-width="1.4" />
<line x1="595.41" y1="49.00" x2="595.41" y2="54.90" stroke="#d6d6d6" stroke-width="1" />
<text transform="translate(122.50,37.05) scale(1.02,1)" font-size="13.8" text-anchor="middle" fill="#1e1e1e" stroke="#1e1e1e" stroke-width="0.25" >0</text>
<text transform="translate(213.44,37.05) scale(1.02,1)" font-size="13.8" text-anchor="middle" fill="#1e1e1e" stroke="#1e1e1e" stroke-width="0.25" >25</text>
<text transform="translate(304.39,37.05) scale(1.02,1)" font-size="13.8" text-anchor="middle" fill="#1e1e1e" stroke="#1e1e1e" stroke-width="0.25" >50</text>
<text transform="translate(395.33,37.05) scale(1.02,1)" font-size="13.8" text-anchor="middle" fill="#1e1e1e" stroke="#1e1e1e" stroke-width="0.25" >75</text>
<text transform="translate(486.28,37.05) scale(1.02,1)" font-size="13.8" text-anchor="middle" fill="#1e1e1e" stroke="#1e1e1e" stroke-width="0.25" >100</text>
<text transform="translate(577.22,37.05) scale(1.02,1)" font-size="13.8" text-anchor="middle" fill="#1e1e1e" stroke="#1e1e1e" stroke-width="0.25" >125</text>
<text transform="translate(138.20,36.50) scale(1.02,1)" font-size="13.8" text-anchor="start" fill="#1e1e1e" stroke="#1e1e1e" stroke-width="0.25" textLength="58" lengthAdjust="spacingAndGlyphs">U.S.GPM</text>
<line x1="112.20" y1="735.50" x2="122.50" y2="735.50" stroke="#2b2b2b" stroke-width="1.4" />
<text transform="translate(104.50,741.25) scale(1.02,1)" font-size="13.8" text-anchor="end" fill="#1e1e1e" stroke="#1e1e1e" stroke-width="0.25" >0</text>
<line x1="112.20" y1="638.27" x2="122.50" y2="638.27" stroke="#2b2b2b" stroke-width="1.4" />
<text transform="translate(104.50,644.02) scale(1.02,1)" font-size="13.8" text-anchor="end" fill="#1e1e1e" stroke="#1e1e1e" stroke-width="0.25" >50</text>
<line x1="112.20" y1="541.04" x2="122.50" y2="541.04" stroke="#2b2b2b" stroke-width="1.4" />
<text transform="translate(104.50,546.79) scale(1.02,1)" font-size="13.8" text-anchor="end" fill="#1e1e1e" stroke="#1e1e1e" stroke-width="0.25" >100</text>
<line x1="112.20" y1="443.81" x2="122.50" y2="443.81" stroke="#2b2b2b" stroke-width="1.4" />
<text transform="translate(104.50,449.56) scale(1.02,1)" font-size="13.8" text-anchor="end" fill="#1e1e1e" stroke="#1e1e1e" stroke-width="0.25" >150</text>
<line x1="112.20" y1="346.59" x2="122.50" y2="346.59" stroke="#2b2b2b" stroke-width="1.4" />
<text transform="translate(104.50,352.33) scale(1.02,1)" font-size="13.8" text-anchor="end" fill="#1e1e1e" stroke="#1e1e1e" stroke-width="0.25" >200</text>
<line x1="112.20" y1="249.36" x2="122.50" y2="249.36" stroke="#2b2b2b" stroke-width="1.4" />
<text transform="translate(104.50,255.10) scale(1.02,1)" font-size="13.8" text-anchor="end" fill="#1e1e1e" stroke="#1e1e1e" stroke-width="0.25" >250</text>
<line x1="112.20" y1="152.13" x2="122.50" y2="152.13" stroke="#2b2b2b" stroke-width="1.4" />
<text transform="translate(104.50,157.88) scale(1.02,1)" font-size="13.8" text-anchor="end" fill="#1e1e1e" stroke="#1e1e1e" stroke-width="0.25" >300</text>
<text transform="translate(95.80,45.95) scale(1.02,1)" font-size="13.8" text-anchor="middle" fill="#1e1e1e" stroke="#1e1e1e" stroke-width="0.25" >H</text>
<text transform="translate(95.80,59.25) scale(1.02,1)" font-size="13.8" text-anchor="middle" fill="#1e1e1e" stroke="#1e1e1e" stroke-width="0.25" >[m]</text>
<line x1="62.30" y1="54.90" x2="62.30" y2="735.50" stroke="#2b2b2b" stroke-width="1.4" />
<line x1="51.80" y1="735.50" x2="62.30" y2="735.50" stroke="#2b2b2b" stroke-width="1.4" />
<text transform="translate(43.40,740.65) scale(1.02,1)" font-size="13.8" text-anchor="end" fill="#1e1e1e" stroke="#1e1e1e" stroke-width="0.25" >0</text>
<line x1="56.40" y1="705.86" x2="62.30" y2="705.86" stroke="#d6d6d6" stroke-width="1" />
<line x1="56.40" y1="676.23" x2="62.30" y2="676.23" stroke="#d6d6d6" stroke-width="1" />
<line x1="56.40" y1="646.59" x2="62.30" y2="646.59" stroke="#d6d6d6" stroke-width="1" />
<line x1="51.80" y1="616.96" x2="62.30" y2="616.96" stroke="#2b2b2b" stroke-width="1.4" />
<text transform="translate(43.40,622.11) scale(1.02,1)" font-size="13.8" text-anchor="end" fill="#1e1e1e" stroke="#1e1e1e" stroke-width="0.25" >200</text>
<line x1="56.40" y1="587.32" x2="62.30" y2="587.32" stroke="#d6d6d6" stroke-width="1" />
<line x1="56.40" y1="557.69" x2="62.30" y2="557.69" stroke="#d6d6d6" stroke-width="1" />
<line x1="56.40" y1="528.05" x2="62.30" y2="528.05" stroke="#d6d6d6" stroke-width="1" />
<line x1="51.80" y1="498.42" x2="62.30" y2="498.42" stroke="#2b2b2b" stroke-width="1.4" />
<text transform="translate(43.40,503.57) scale(1.02,1)" font-size="13.8" text-anchor="end" fill="#1e1e1e" stroke="#1e1e1e" stroke-width="0.25" >400</text>
<line x1="56.40" y1="468.78" x2="62.30" y2="468.78" stroke="#d6d6d6" stroke-width="1" />
<line x1="56.40" y1="439.15" x2="62.30" y2="439.15" stroke="#d6d6d6" stroke-width="1" />
<line x1="56.40" y1="409.51" x2="62.30" y2="409.51" stroke="#d6d6d6" stroke-width="1" />
<line x1="51.80" y1="379.88" x2="62.30" y2="379.88" stroke="#2b2b2b" stroke-width="1.4" />
<text transform="translate(43.40,385.02) scale(1.02,1)" font-size="13.8" text-anchor="end" fill="#1e1e1e" stroke="#1e1e1e" stroke-width="0.25" >600</text>
<line x1="56.40" y1="350.24" x2="62.30" y2="350.24" stroke="#d6d6d6" stroke-width="1" />
<line x1="56.40" y1="320.61" x2="62.30" y2="320.61" stroke="#d6d6d6" stroke-width="1" />
<line x1="56.40" y1="290.97" x2="62.30" y2="290.97" stroke="#d6d6d6" stroke-width="1" />
<line x1="51.80" y1="261.34" x2="62.30" y2="261.34" stroke="#2b2b2b" stroke-width="1.4" />
<text transform="translate(43.40,266.48) scale(1.02,1)" font-size="13.8" text-anchor="end" fill="#1e1e1e" stroke="#1e1e1e" stroke-width="0.25" >800</text>
<line x1="56.40" y1="231.70" x2="62.30" y2="231.70" stroke="#d6d6d6" stroke-width="1" />
<line x1="56.40" y1="202.07" x2="62.30" y2="202.07" stroke="#d6d6d6" stroke-width="1" />
<line x1="56.40" y1="172.43" x2="62.30" y2="172.43" stroke="#d6d6d6" stroke-width="1" />
<line x1="51.80" y1="142.79" x2="62.30" y2="142.79" stroke="#2b2b2b" stroke-width="1.4" />
<text transform="translate(45.00,147.94) scale(1.02,1)" font-size="13.8" text-anchor="end" fill="#1e1e1e" stroke="#1e1e1e" stroke-width="0.25" >1000</text>
<line x1="56.40" y1="113.16" x2="62.30" y2="113.16" stroke="#d6d6d6" stroke-width="1" />
<line x1="56.40" y1="83.52" x2="62.30" y2="83.52" stroke="#d6d6d6" stroke-width="1" />
<text transform="translate(35.80,45.95) scale(1.02,1)" font-size="13.8" text-anchor="middle" fill="#1e1e1e" stroke="#1e1e1e" stroke-width="0.25" >H</text>
<text transform="translate(35.80,59.25) scale(1.02,1)" font-size="13.8" text-anchor="middle" fill="#1e1e1e" stroke="#1e1e1e" stroke-width="0.25" >[ft]</text>
<line x1="603.00" y1="735.50" x2="613.20" y2="735.50" stroke="#2b2b2b" stroke-width="1.4" />
<text transform="translate(623.00,740.25) scale(1.02,1)" font-size="13.8" text-anchor="start" fill="#1e1e1e" stroke="#1e1e1e" stroke-width="0.25" >0</text>
<line x1="603.00" y1="708.16" x2="609.00" y2="708.16" stroke="#d6d6d6" stroke-width="1" />
<line x1="603.00" y1="680.81" x2="609.00" y2="680.81" stroke="#d6d6d6" stroke-width="1" />
<line x1="603.00" y1="653.47" x2="609.00" y2="653.47" stroke="#d6d6d6" stroke-width="1" />
<line x1="603.00" y1="626.13" x2="609.00" y2="626.13" stroke="#d6d6d6" stroke-width="1" />
<line x1="603.00" y1="598.78" x2="613.20" y2="598.78" stroke="#2b2b2b" stroke-width="1.4" />
<text transform="translate(623.00,603.53) scale(1.02,1)" font-size="13.8" text-anchor="start" fill="#1e1e1e" stroke="#1e1e1e" stroke-width="0.25" >100</text>
<line x1="603.00" y1="571.44" x2="609.00" y2="571.44" stroke="#d6d6d6" stroke-width="1" />
<line x1="603.00" y1="544.10" x2="609.00" y2="544.10" stroke="#d6d6d6" stroke-width="1" />
<line x1="603.00" y1="516.75" x2="609.00" y2="516.75" stroke="#d6d6d6" stroke-width="1" />
<line x1="603.00" y1="489.41" x2="609.00" y2="489.41" stroke="#d6d6d6" stroke-width="1" />
<line x1="603.00" y1="462.07" x2="613.20" y2="462.07" stroke="#2b2b2b" stroke-width="1.4" />
<text transform="translate(623.00,466.81) scale(1.02,1)" font-size="13.8" text-anchor="start" fill="#1e1e1e" stroke="#1e1e1e" stroke-width="0.25" >200</text>
<line x1="603.00" y1="434.72" x2="609.00" y2="434.72" stroke="#d6d6d6" stroke-width="1" />
<line x1="603.00" y1="407.38" x2="609.00" y2="407.38" stroke="#d6d6d6" stroke-width="1" />
<line x1="603.00" y1="380.04" x2="609.00" y2="380.04" stroke="#d6d6d6" stroke-width="1" />
<line x1="603.00" y1="352.69" x2="609.00" y2="352.69" stroke="#d6d6d6" stroke-width="1" />
<line x1="603.00" y1="325.35" x2="613.20" y2="325.35" stroke="#2b2b2b" stroke-width="1.4" />
<text transform="translate(623.00,330.10) scale(1.02,1)" font-size="13.8" text-anchor="start" fill="#1e1e1e" stroke="#1e1e1e" stroke-width="0.25" >300</text>
<line x1="603.00" y1="298.01" x2="609.00" y2="298.01" stroke="#d6d6d6" stroke-width="1" />
<line x1="603.00" y1="270.66" x2="609.00" y2="270.66" stroke="#d6d6d6" stroke-width="1" />
<line x1="603.00" y1="243.32" x2="609.00" y2="243.32" stroke="#d6d6d6" stroke-width="1" />
<line x1="603.00" y1="215.98" x2="609.00" y2="215.98" stroke="#d6d6d6" stroke-width="1" />
<line x1="603.00" y1="188.63" x2="613.20" y2="188.63" stroke="#2b2b2b" stroke-width="1.4" />
<text transform="translate(623.00,193.38) scale(1.02,1)" font-size="13.8" text-anchor="start" fill="#1e1e1e" stroke="#1e1e1e" stroke-width="0.25" >400</text>
<line x1="603.00" y1="161.29" x2="609.00" y2="161.29" stroke="#d6d6d6" stroke-width="1" />
<line x1="603.00" y1="133.95" x2="609.00" y2="133.95" stroke="#d6d6d6" stroke-width="1" />
<line x1="603.00" y1="106.60" x2="609.00" y2="106.60" stroke="#d6d6d6" stroke-width="1" />
<line x1="603.00" y1="79.26" x2="609.00" y2="79.26" stroke="#d6d6d6" stroke-width="1" />
<text transform="translate(634.50,59.95) scale(1.02,1)" font-size="13.8" text-anchor="middle" fill="#1e1e1e" stroke="#1e1e1e" stroke-width="0.25" >[psi]</text>
<line x1="663.50" y1="54.90" x2="663.50" y2="735.50" stroke="#2b2b2b" stroke-width="1.4" />
<line x1="663.50" y1="735.50" x2="673.80" y2="735.50" stroke="#2b2b2b" stroke-width="1.4" />
<text transform="translate(683.50,741.45) scale(1.02,1)" font-size="13.8" text-anchor="start" fill="#1e1e1e" stroke="#1e1e1e" stroke-width="0.25" >0</text>
<line x1="663.50" y1="715.67" x2="669.50" y2="715.67" stroke="#d6d6d6" stroke-width="1" />
<line x1="663.50" y1="695.84" x2="669.50" y2="695.84" stroke="#d6d6d6" stroke-width="1" />
<line x1="663.50" y1="676.01" x2="669.50" y2="676.01" stroke="#d6d6d6" stroke-width="1" />
<line x1="663.50" y1="656.18" x2="669.50" y2="656.18" stroke="#d6d6d6" stroke-width="1" />
<line x1="663.50" y1="636.35" x2="673.80" y2="636.35" stroke="#2b2b2b" stroke-width="1.4" />
<text transform="translate(683.50,642.30) scale(1.02,1)" font-size="13.8" text-anchor="start" fill="#1e1e1e" stroke="#1e1e1e" stroke-width="0.25" >5</text>
<line x1="663.50" y1="616.52" x2="669.50" y2="616.52" stroke="#d6d6d6" stroke-width="1" />
<line x1="663.50" y1="596.70" x2="669.50" y2="596.70" stroke="#d6d6d6" stroke-width="1" />
<line x1="663.50" y1="576.87" x2="669.50" y2="576.87" stroke="#d6d6d6" stroke-width="1" />
<line x1="663.50" y1="557.04" x2="669.50" y2="557.04" stroke="#d6d6d6" stroke-width="1" />
<line x1="663.50" y1="537.21" x2="673.80" y2="537.21" stroke="#2b2b2b" stroke-width="1.4" />
<text transform="translate(683.50,543.16) scale(1.02,1)" font-size="13.8" text-anchor="start" fill="#1e1e1e" stroke="#1e1e1e" stroke-width="0.25" >10</text>
<line x1="663.50" y1="517.38" x2="669.50" y2="517.38" stroke="#d6d6d6" stroke-width="1" />
<line x1="663.50" y1="497.55" x2="669.50" y2="497.55" stroke="#d6d6d6" stroke-width="1" />
<line x1="663.50" y1="477.72" x2="669.50" y2="477.72" stroke="#d6d6d6" stroke-width="1" />
<line x1="663.50" y1="457.89" x2="669.50" y2="457.89" stroke="#d6d6d6" stroke-width="1" />
<line x1="663.50" y1="438.06" x2="673.80" y2="438.06" stroke="#2b2b2b" stroke-width="1.4" />
<text transform="translate(683.50,444.01) scale(1.02,1)" font-size="13.8" text-anchor="start" fill="#1e1e1e" stroke="#1e1e1e" stroke-width="0.25" >15</text>
<line x1="663.50" y1="418.23" x2="669.50" y2="418.23" stroke="#d6d6d6" stroke-width="1" />
<line x1="663.50" y1="398.40" x2="669.50" y2="398.40" stroke="#d6d6d6" stroke-width="1" />
<line x1="663.50" y1="378.57" x2="669.50" y2="378.57" stroke="#d6d6d6" stroke-width="1" />
<line x1="663.50" y1="358.75" x2="669.50" y2="358.75" stroke="#d6d6d6" stroke-width="1" />
<line x1="663.50" y1="338.92" x2="673.80" y2="338.92" stroke="#2b2b2b" stroke-width="1.4" />
<text transform="translate(683.50,344.86) scale(1.02,1)" font-size="13.8" text-anchor="start" fill="#1e1e1e" stroke="#1e1e1e" stroke-width="0.25" >20</text>
<line x1="663.50" y1="319.09" x2="669.50" y2="319.09" stroke="#d6d6d6" stroke-width="1" />
<line x1="663.50" y1="299.26" x2="669.50" y2="299.26" stroke="#d6d6d6" stroke-width="1" />
<line x1="663.50" y1="279.43" x2="669.50" y2="279.43" stroke="#d6d6d6" stroke-width="1" />
<line x1="663.50" y1="259.60" x2="669.50" y2="259.60" stroke="#d6d6d6" stroke-width="1" />
<line x1="663.50" y1="239.77" x2="673.80" y2="239.77" stroke="#2b2b2b" stroke-width="1.4" />
<text transform="translate(683.50,245.72) scale(1.02,1)" font-size="13.8" text-anchor="start" fill="#1e1e1e" stroke="#1e1e1e" stroke-width="0.25" >25</text>
<line x1="663.50" y1="219.94" x2="669.50" y2="219.94" stroke="#d6d6d6" stroke-width="1" />
<line x1="663.50" y1="200.11" x2="669.50" y2="200.11" stroke="#d6d6d6" stroke-width="1" />
<line x1="663.50" y1="180.28" x2="669.50" y2="180.28" stroke="#d6d6d6" stroke-width="1" />
<line x1="663.50" y1="160.45" x2="669.50" y2="160.45" stroke="#d6d6d6" stroke-width="1" />
<line x1="663.50" y1="140.62" x2="673.80" y2="140.62" stroke="#2b2b2b" stroke-width="1.4" />
<text transform="translate(683.50,146.57) scale(1.02,1)" font-size="13.8" text-anchor="start" fill="#1e1e1e" stroke="#1e1e1e" stroke-width="0.25" >30</text>
<line x1="663.50" y1="120.80" x2="669.50" y2="120.80" stroke="#d6d6d6" stroke-width="1" />
<line x1="663.50" y1="100.97" x2="669.50" y2="100.97" stroke="#d6d6d6" stroke-width="1" />
<line x1="663.50" y1="81.14" x2="669.50" y2="81.14" stroke="#d6d6d6" stroke-width="1" />
<line x1="663.50" y1="61.31" x2="669.50" y2="61.31" stroke="#d6d6d6" stroke-width="1" />
<text transform="translate(696.30,59.95) scale(1.02,1)" font-size="13.8" text-anchor="middle" fill="#1e1e1e" stroke="#1e1e1e" stroke-width="0.25" >[bar]</text>
<line x1="218.60" y1="735.50" x2="218.60" y2="746.00" stroke="#2b2b2b" stroke-width="1.4" />
<line x1="314.70" y1="735.50" x2="314.70" y2="746.00" stroke="#2b2b2b" stroke-width="1.4" />
<line x1="410.80" y1="735.50" x2="410.80" y2="746.00" stroke="#2b2b2b" stroke-width="1.4" />
<line x1="506.90" y1="735.50" x2="506.90" y2="746.00" stroke="#2b2b2b" stroke-width="1.4" />
<text transform="translate(123.10,762.55) scale(1.02,1)" font-size="13.8" text-anchor="middle" fill="#1e1e1e" stroke="#1e1e1e" stroke-width="0.25" >0</text>
<text transform="translate(219.20,762.55) scale(1.02,1)" font-size="13.8" text-anchor="middle" fill="#1e1e1e" stroke="#1e1e1e" stroke-width="0.25" >100</text>
<text transform="translate(315.30,762.55) scale(1.02,1)" font-size="13.8" text-anchor="middle" fill="#1e1e1e" stroke="#1e1e1e" stroke-width="0.25" >200</text>
<text transform="translate(411.40,762.55) scale(1.02,1)" font-size="13.8" text-anchor="middle" fill="#1e1e1e" stroke="#1e1e1e" stroke-width="0.25" >300</text>
<text transform="translate(507.50,762.55) scale(1.02,1)" font-size="13.8" text-anchor="middle" fill="#1e1e1e" stroke="#1e1e1e" stroke-width="0.25" >400</text>
<text transform="translate(598.40,761.75) scale(1.02,1)" font-size="13.8" text-anchor="start" fill="#1e1e1e" stroke="#1e1e1e" stroke-width="0.25" >Q[l/min]</text>
<path d="M97,580.8 C90,583.5 81,590 77.6,598.5 C75.5,604 77.5,610 83,613.2 C88,615.8 93,617 97.6,617.2 L96.8,625 L115,613.3 L96.1,601.1 L97.5,609.2 C93.5,609 88.5,607 86.6,603 C84.8,598.5 85.8,592.8 88.5,589 C91,585.5 94,582.8 97,580.8 Z" fill="#f2421c" stroke="#1f1010" stroke-width="1.2" stroke-linejoin="round"/>
<rect x="122.5" y="779.7" width="480.5" height="127.59999999999991" fill="#daecf7"/>
<path d="M141.72 779.70V907.30M160.94 779.70V907.30M180.16 779.70V907.30M199.38 779.70V907.30M218.60 779.70V907.30M237.82 779.70V907.30M257.04 779.70V907.30M276.26 779.70V907.30M295.48 779.70V907.30M314.70 779.70V907.30M333.92 779.70V907.30M353.14 779.70V907.30M372.36 779.70V907.30M391.58 779.70V907.30M410.80 779.70V907.30M430.02 779.70V907.30M449.24 779.70V907.30M468.46 779.70V907.30M487.68 779.70V907.30M506.90 779.70V907.30M526.12 779.70V907.30M545.34 779.70V907.30M564.56 779.70V907.30M583.78 779.70V907.30M122.50 899.32H603.00M122.50 891.35H603.00M122.50 883.38H603.00M122.50 875.40H603.00M122.50 867.42H603.00M122.50 859.45H603.00M122.50 851.48H603.00M122.50 843.50H603.00M122.50 835.52H603.00M122.50 827.55H603.00M122.50 819.58H603.00M122.50 811.60H603.00M122.50 803.62H603.00M122.50 795.65H603.00M122.50 787.68H603.00" stroke="#83919c" stroke-width="1" fill="none"/>
<polyline points="122.90,906.99 127.27,903.59 131.63,900.24 136.00,896.94 140.37,893.70 144.73,890.50 149.10,887.36 153.47,884.28 157.83,881.24 162.20,878.25 166.57,875.32 170.93,872.44 175.30,869.61 179.67,866.83 184.03,864.10 188.40,861.42 192.77,858.79 197.13,856.22 201.50,853.69 205.87,851.22 210.23,848.79 214.60,846.42 218.97,844.09 223.33,841.82 227.70,839.59 232.07,837.42 236.43,835.29 240.80,833.22 245.17,831.19 249.53,829.21 253.90,827.29 258.27,825.41 262.63,823.58 267.00,821.80 271.37,820.06 275.73,818.38 280.10,816.75 284.47,815.16 288.83,813.62 293.20,812.13 297.57,810.69 301.93,809.29 306.30,807.95 310.67,806.65 315.03,805.40 319.40,804.19 323.77,803.03 328.13,801.92 332.50,800.86 336.87,799.85 341.23,798.88 345.60,797.96 349.97,797.08 354.33,796.25 358.70,795.47 363.07,794.73 367.43,794.04 371.80,793.40 376.17,792.81 380.53,792.25 384.90,791.75 389.27,791.29 393.63,790.88 398.00,790.51 402.37,790.19 406.73,789.91 411.10,789.68 415.47,789.50 419.83,789.36 424.20,789.27 428.57,789.22 432.93,789.22 437.30,789.26 441.67,789.34 446.03,789.48 450.40,789.65 454.77,789.87 459.13,790.14 463.50,790.45 467.87,790.81 472.23,791.21 476.60,791.65 480.97,792.14 485.33,792.67 489.70,793.25 494.07,793.87 498.43,794.53 502.80,795.24 507.17,796.00 511.53,796.79 515.90,797.63 520.27,798.52 524.63,799.44 529.00,800.41 533.37,801.43 537.73,802.48 542.10,803.58 546.47,804.73 550.83,805.91 555.20,807.14" fill="none" stroke="#1e5776" stroke-width="1.6" stroke-linejoin="round"/>
<polyline points="122.90,862.27 127.27,862.35 131.63,862.40 136.00,862.41 140.37,862.38 144.73,862.32 149.10,862.22 153.47,862.09 157.83,861.93 162.20,861.73 166.57,861.51 170.93,861.26 175.30,860.98 179.67,860.68 184.03,860.35 188.40,859.99 192.77,859.61 197.13,859.22 201.50,858.80 205.87,858.36 210.23,857.90 214.60,857.42 218.97,856.93 223.33,856.42 227.70,855.90 232.07,855.37 236.43,854.82 240.80,854.27 245.17,853.70 249.53,853.13 253.90,852.54 258.27,851.96 262.63,851.36 267.00,850.77 271.37,850.17 275.73,849.56 280.10,848.96 284.47,848.36 288.83,847.76 293.20,847.16 297.57,846.57 301.93,845.98 306.30,845.39 310.67,844.82 315.03,844.25 319.40,843.69 323.77,843.14 328.13,842.61 332.50,842.08 336.87,841.56 341.23,841.04 345.60,840.54 349.97,840.05 354.33,839.57 358.70,839.10 363.07,838.64 367.43,838.18 371.80,837.74 376.17,837.31 380.53,836.89 384.90,836.48 389.27,836.07 393.63,835.68 398.00,835.30 402.37,834.93 406.73,834.57 411.10,834.22 415.47,833.87 419.83,833.54 424.20,833.22 428.57,832.91 432.93,832.62 437.30,832.33 441.67,832.05 446.03,831.78 450.40,831.53 454.77,831.28 459.13,831.05 463.50,830.82 467.87,830.61 472.23,830.41 476.60,830.22 480.97,830.04 485.33,829.87 489.70,829.71 494.07,829.56 498.43,829.43 502.80,829.30 507.17,829.19 511.53,829.09 515.90,829.00 520.27,828.92 524.63,828.85 529.00,828.79 533.37,828.75 537.73,828.71 542.10,828.69 546.47,828.68 550.83,828.69 555.20,828.70" fill="none" stroke="#1e5776" stroke-width="1.6" stroke-linejoin="round"/>
<polyline points="122.90,872.09 127.27,871.90 131.63,871.72 136.00,871.56 140.37,871.40 144.73,871.25 149.10,871.11 153.47,870.98 157.83,870.86 162.20,870.75 166.57,870.65 170.93,870.55 175.30,870.46 179.67,870.37 184.03,870.29 188.40,870.22 192.77,870.15 197.13,870.09 201.50,870.03 205.87,869.97 210.23,869.91 214.60,869.86 218.97,869.81 223.33,869.76 227.70,869.72 232.07,869.67 236.43,869.62 240.80,869.58 245.17,869.53 249.53,869.48 253.90,869.43 258.27,869.38 262.63,869.32 267.00,869.26 271.37,869.20 275.73,869.13 280.10,869.06 284.47,868.99 288.83,868.91 293.20,868.82 297.57,868.73 301.93,868.63 306.30,868.52 310.67,868.40 315.03,868.28 319.40,868.15 323.77,868.01 328.13,867.85 332.50,867.69 336.87,867.52 341.23,867.34 345.60,867.15 349.97,866.94 354.33,866.72 358.70,866.49 363.07,866.24 367.43,865.99 371.80,865.71 376.17,865.42 380.53,865.12 384.90,864.80 389.27,864.47 393.63,864.12 398.00,863.75 402.37,863.36 406.73,862.96 411.10,862.53 415.47,862.09 419.83,861.63 424.20,861.15 428.57,860.65 432.93,860.13 437.30,859.58 441.67,859.02 446.03,858.43 450.40,857.82 454.77,857.19 459.13,856.53 463.50,855.85 467.87,855.14 472.23,854.41 476.60,853.66 480.97,852.88 485.33,852.07 489.70,851.23 494.07,850.37 498.43,849.48 502.80,848.56 507.17,847.61 511.53,846.64 515.90,845.63 520.27,844.59 524.63,843.53 529.00,842.43 533.37,841.30 537.73,840.14 542.10,838.94 546.47,837.71 550.83,836.45 555.20,835.16" fill="none" stroke="#1e5776" stroke-width="1.6" stroke-linejoin="round"/>
<rect x="419" y="792.5" width="25" height="17" fill="#e4f1fa"/>
<text transform="translate(431.00,807.75) scale(1.02,1)" font-size="13.8" text-anchor="middle" fill="#1e1e1e" stroke="#1e1e1e" stroke-width="0.25" >η%</text>
<rect x="343" y="844" width="63" height="15" fill="#e4f1fa"/>
<text transform="translate(344.20,856.45) scale(1.02,1)" font-size="13.8" text-anchor="start" fill="#1e1e1e" stroke="#1e1e1e" stroke-width="0.25" >kW/Stage</text>
<rect x="473" y="860.5" width="40" height="14" fill="#e4f1fa"/>
<text transform="translate(474.00,872.15) scale(1.02,1)" font-size="13.8" text-anchor="start" fill="#1e1e1e" stroke="#1e1e1e" stroke-width="0.25" >NPSH</text>
<line x1="122.50" y1="779.70" x2="122.50" y2="917.60" stroke="#2b2b2b" stroke-width="1.4" />
<line x1="112.00" y1="779.70" x2="613.20" y2="779.70" stroke="#2b2b2b" stroke-width="1.4" />
<line x1="112.00" y1="907.30" x2="613.20" y2="907.30" stroke="#2b2b2b" stroke-width="1.4" />
<line x1="603.00" y1="779.70" x2="603.00" y2="917.30" stroke="#2b2b2b" stroke-width="1.4" />
<line x1="112.00" y1="907.30" x2="122.50" y2="907.30" stroke="#2b2b2b" stroke-width="1.4" />
<text transform="translate(103.50,913.25) scale(1.02,1)" font-size="13.8" text-anchor="end" fill="#1e1e1e" stroke="#1e1e1e" stroke-width="0.25" >0</text>
<line x1="603.00" y1="907.30" x2="613.20" y2="907.30" stroke="#2b2b2b" stroke-width="1.4" />
<text transform="translate(622.30,912.65) scale(1.02,1)" font-size="13.8" text-anchor="start" fill="#1e1e1e" stroke="#1e1e1e" stroke-width="0.25" >0</text>
<line x1="112.00" y1="875.40" x2="122.50" y2="875.40" stroke="#2b2b2b" stroke-width="1.4" />
<text transform="translate(103.50,881.35) scale(1.02,1)" font-size="13.8" text-anchor="end" fill="#1e1e1e" stroke="#1e1e1e" stroke-width="0.25" >20</text>
<line x1="603.00" y1="875.40" x2="613.20" y2="875.40" stroke="#2b2b2b" stroke-width="1.4" />
<text transform="translate(622.30,880.75) scale(1.02,1)" font-size="13.8" text-anchor="start" fill="#1e1e1e" stroke="#1e1e1e" stroke-width="0.25" >0.4</text>
<line x1="112.00" y1="843.50" x2="122.50" y2="843.50" stroke="#2b2b2b" stroke-width="1.4" />
<text transform="translate(103.50,849.45) scale(1.02,1)" font-size="13.8" text-anchor="end" fill="#1e1e1e" stroke="#1e1e1e" stroke-width="0.25" >40</text>
<line x1="603.00" y1="843.50" x2="613.20" y2="843.50" stroke="#2b2b2b" stroke-width="1.4" />
<text transform="translate(622.30,848.85) scale(1.02,1)" font-size="13.8" text-anchor="start" fill="#1e1e1e" stroke="#1e1e1e" stroke-width="0.25" >0.8</text>
<line x1="112.00" y1="811.60" x2="122.50" y2="811.60" stroke="#2b2b2b" stroke-width="1.4" />
<text transform="translate(103.50,817.55) scale(1.02,1)" font-size="13.8" text-anchor="end" fill="#1e1e1e" stroke="#1e1e1e" stroke-width="0.25" >60</text>
<line x1="603.00" y1="811.60" x2="613.20" y2="811.60" stroke="#2b2b2b" stroke-width="1.4" />
<text transform="translate(622.30,816.95) scale(1.02,1)" font-size="13.8" text-anchor="start" fill="#1e1e1e" stroke="#1e1e1e" stroke-width="0.25" >1.2</text>
<line x1="112.00" y1="779.70" x2="122.50" y2="779.70" stroke="#2b2b2b" stroke-width="1.4" />
<text transform="translate(103.50,785.65) scale(1.02,1)" font-size="13.8" text-anchor="end" fill="#1e1e1e" stroke="#1e1e1e" stroke-width="0.25" >80</text>
<line x1="603.00" y1="779.70" x2="613.20" y2="779.70" stroke="#2b2b2b" stroke-width="1.4" />
<text transform="translate(622.30,785.05) scale(1.02,1)" font-size="13.8" text-anchor="start" fill="#1e1e1e" stroke="#1e1e1e" stroke-width="0.25" >1.6</text>
<line x1="62.50" y1="779.70" x2="62.50" y2="907.30" stroke="#2b2b2b" stroke-width="1.4" />
<line x1="51.70" y1="907.30" x2="62.50" y2="907.30" stroke="#2b2b2b" stroke-width="1.4" />
<text transform="translate(43.50,913.25) scale(1.02,1)" font-size="13.8" text-anchor="end" fill="#1e1e1e" stroke="#1e1e1e" stroke-width="0.25" >0</text>
<line x1="56.00" y1="899.32" x2="62.50" y2="899.32" stroke="#d6d6d6" stroke-width="1" />
<line x1="56.00" y1="891.35" x2="62.50" y2="891.35" stroke="#d6d6d6" stroke-width="1" />
<line x1="56.00" y1="883.38" x2="62.50" y2="883.38" stroke="#d6d6d6" stroke-width="1" />
<line x1="51.70" y1="875.40" x2="62.50" y2="875.40" stroke="#2b2b2b" stroke-width="1.4" />
<text transform="translate(43.50,881.35) scale(1.02,1)" font-size="13.8" text-anchor="end" fill="#1e1e1e" stroke="#1e1e1e" stroke-width="0.25" >4</text>
<line x1="56.00" y1="867.42" x2="62.50" y2="867.42" stroke="#d6d6d6" stroke-width="1" />
<line x1="56.00" y1="859.45" x2="62.50" y2="859.45" stroke="#d6d6d6" stroke-width="1" />
<line x1="56.00" y1="851.48" x2="62.50" y2="851.48" stroke="#d6d6d6" stroke-width="1" />
<line x1="51.70" y1="843.50" x2="62.50" y2="843.50" stroke="#2b2b2b" stroke-width="1.4" />
<text transform="translate(43.50,849.45) scale(1.02,1)" font-size="13.8" text-anchor="end" fill="#1e1e1e" stroke="#1e1e1e" stroke-width="0.25" >8</text>
<line x1="56.00" y1="835.52" x2="62.50" y2="835.52" stroke="#d6d6d6" stroke-width="1" />
<line x1="56.00" y1="827.55" x2="62.50" y2="827.55" stroke="#d6d6d6" stroke-width="1" />
<line x1="56.00" y1="819.58" x2="62.50" y2="819.58" stroke="#d6d6d6" stroke-width="1" />
<line x1="51.70" y1="811.60" x2="62.50" y2="811.60" stroke="#2b2b2b" stroke-width="1.4" />
<text transform="translate(43.50,817.55) scale(1.02,1)" font-size="13.8" text-anchor="end" fill="#1e1e1e" stroke="#1e1e1e" stroke-width="0.25" >12</text>
<line x1="56.00" y1="803.62" x2="62.50" y2="803.62" stroke="#d6d6d6" stroke-width="1" />
<line x1="56.00" y1="795.65" x2="62.50" y2="795.65" stroke="#d6d6d6" stroke-width="1" />
<line x1="56.00" y1="787.68" x2="62.50" y2="787.68" stroke="#d6d6d6" stroke-width="1" />
<line x1="51.70" y1="779.70" x2="62.50" y2="779.70" stroke="#2b2b2b" stroke-width="1.4" />
<text transform="translate(43.50,785.65) scale(1.02,1)" font-size="13.8" text-anchor="end" fill="#1e1e1e" stroke="#1e1e1e" stroke-width="0.25" >16</text>
<text transform="translate(47.40,800.65) scale(1.02,1)" font-size="13.8" text-anchor="end" fill="#1e1e1e" stroke="#1e1e1e" stroke-width="0.25" >H(m)</text>
<text transform="translate(107.00,800.65) scale(1.02,1)" font-size="13.8" text-anchor="end" fill="#1e1e1e" stroke="#1e1e1e" stroke-width="0.25" >η(%)</text>
<text transform="translate(615.60,800.85) scale(1.02,1)" font-size="13.8" text-anchor="start" fill="#1e1e1e" stroke="#1e1e1e" stroke-width="0.25" >P</text>
<text transform="translate(623.00,800.85) scale(1.02,1)" font-size="9.6" text-anchor="start" fill="#1e1e1e" stroke="#1e1e1e" stroke-width="0.25" >2</text>
<text transform="translate(630.60,800.85) scale(1.02,1)" font-size="13.8" text-anchor="start" fill="#1e1e1e" stroke="#1e1e1e" stroke-width="0.25" >(kW)</text>
<line x1="218.60" y1="907.30" x2="218.60" y2="917.30" stroke="#2b2b2b" stroke-width="1.4" />
<line x1="314.70" y1="907.30" x2="314.70" y2="917.30" stroke="#2b2b2b" stroke-width="1.4" />
<line x1="410.80" y1="907.30" x2="410.80" y2="917.30" stroke="#2b2b2b" stroke-width="1.4" />
<line x1="506.90" y1="907.30" x2="506.90" y2="917.30" stroke="#2b2b2b" stroke-width="1.4" />
<text transform="translate(123.10,934.55) scale(1.02,1)" font-size="13.8" text-anchor="middle" fill="#1e1e1e" stroke="#1e1e1e" stroke-width="0.25" >0</text>
<text transform="translate(219.20,934.55) scale(1.02,1)" font-size="13.8" text-anchor="middle" fill="#1e1e1e" stroke="#1e1e1e" stroke-width="0.25" >100</text>
<text transform="translate(315.30,934.55) scale(1.02,1)" font-size="13.8" text-anchor="middle" fill="#1e1e1e" stroke="#1e1e1e" stroke-width="0.25" >200</text>
<text transform="translate(411.40,934.55) scale(1.02,1)" font-size="13.8" text-anchor="middle" fill="#1e1e1e" stroke="#1e1e1e" stroke-width="0.25" >300</text>
<text transform="translate(507.50,934.55) scale(1.02,1)" font-size="13.8" text-anchor="middle" fill="#1e1e1e" stroke="#1e1e1e" stroke-width="0.25" >400</text>
<text transform="translate(598.00,933.75) scale(1.02,1)" font-size="13.8" text-anchor="start" fill="#1e1e1e" stroke="#1e1e1e" stroke-width="0.25" >Q[l/min]</text>
<line x1="122.50" y1="944.40" x2="603.00" y2="944.40" stroke="#2b2b2b" stroke-width="1.4" />
<line x1="122.50" y1="944.40" x2="122.50" y2="954.00" stroke="#2b2b2b" stroke-width="1.4" />
<line x1="138.52" y1="944.40" x2="138.52" y2="949.50" stroke="#d6d6d6" stroke-width="1" />
<line x1="154.53" y1="944.40" x2="154.53" y2="954.00" stroke="#2b2b2b" stroke-width="1.4" />
<line x1="170.55" y1="944.40" x2="170.55" y2="949.50" stroke="#d6d6d6" stroke-width="1" />
<line x1="186.57" y1="944.40" x2="186.57" y2="954.00" stroke="#2b2b2b" stroke-width="1.4" />
<line x1="202.58" y1="944.40" x2="202.58" y2="949.50" stroke="#d6d6d6" stroke-width="1" />
<line x1="218.60" y1="944.40" x2="218.60" y2="954.00" stroke="#2b2b2b" stroke-width="1.4" />
<line x1="234.62" y1="944.40" x2="234.62" y2="949.50" stroke="#d6d6d6" stroke-width="1" />
<line x1="250.63" y1="944.40" x2="250.63" y2="954.00" stroke="#2b2b2b" stroke-width="1.4" />
<line x1="266.65" y1="944.40" x2="266.65" y2="949.50" stroke="#d6d6d6" stroke-width="1" />
<line x1="282.67" y1="944.40" x2="282.67" y2="954.00" stroke="#2b2b2b" stroke-width="1.4" />
<line x1="298.68" y1="944.40" x2="298.68" y2="949.50" stroke="#d6d6d6" stroke-width="1" />
<line x1="314.70" y1="944.40" x2="314.70" y2="954.00" stroke="#2b2b2b" stroke-width="1.4" />
<line x1="330.72" y1="944.40" x2="330.72" y2="949.50" stroke="#d6d6d6" stroke-width="1" />
<line x1="346.73" y1="944.40" x2="346.73" y2="954.00" stroke="#2b2b2b" stroke-width="1.4" />
<line x1="362.75" y1="944.40" x2="362.75" y2="949.50" stroke="#d6d6d6" stroke-width="1" />
<line x1="378.77" y1="944.40" x2="378.77" y2="954.00" stroke="#2b2b2b" stroke-width="1.4" />
<line x1="394.78" y1="944.40" x2="394.78" y2="949.50" stroke="#d6d6d6" stroke-width="1" />
<line x1="410.80" y1="944.40" x2="410.80" y2="954.00" stroke="#2b2b2b" stroke-width="1.4" />
<line x1="426.82" y1="944.40" x2="426.82" y2="949.50" stroke="#d6d6d6" stroke-width="1" />
<line x1="442.83" y1="944.40" x2="442.83" y2="954.00" stroke="#2b2b2b" stroke-width="1.4" />
<line x1="458.85" y1="944.40" x2="458.85" y2="949.50" stroke="#d6d6d6" stroke-width="1" />
<line x1="474.87" y1="944.40" x2="474.87" y2="954.00" stroke="#2b2b2b" stroke-width="1.4" />
<line x1="490.88" y1="944.40" x2="490.88" y2="949.50" stroke="#d6d6d6" stroke-width="1" />
<line x1="506.90" y1="944.40" x2="506.90" y2="954.00" stroke="#2b2b2b" stroke-width="1.4" />
<line x1="522.92" y1="944.40" x2="522.92" y2="949.50" stroke="#d6d6d6" stroke-width="1" />
<line x1="538.93" y1="944.40" x2="538.93" y2="954.00" stroke="#2b2b2b" stroke-width="1.4" />
<line x1="554.95" y1="944.40" x2="554.95" y2="949.50" stroke="#d6d6d6" stroke-width="1" />
<line x1="570.97" y1="944.40" x2="570.97" y2="954.00" stroke="#2b2b2b" stroke-width="1.4" />
<line x1="586.98" y1="944.40" x2="586.98" y2="949.50" stroke="#d6d6d6" stroke-width="1" />
<line x1="603.00" y1="944.40" x2="603.00" y2="954.00" stroke="#2b2b2b" stroke-width="1.4" />
<text transform="translate(122.50,970.85) scale(1.02,1)" font-size="13.8" text-anchor="middle" fill="#1e1e1e" stroke="#1e1e1e" stroke-width="0.25" >0</text>
<text transform="translate(154.53,970.85) scale(1.02,1)" font-size="13.8" text-anchor="middle" fill="#1e1e1e" stroke="#1e1e1e" stroke-width="0.25" >2</text>
<text transform="translate(186.57,970.85) scale(1.02,1)" font-size="13.8" text-anchor="middle" fill="#1e1e1e" stroke="#1e1e1e" stroke-width="0.25" >4</text>
<text transform="translate(218.60,970.85) scale(1.02,1)" font-size="13.8" text-anchor="middle" fill="#1e1e1e" stroke="#1e1e1e" stroke-width="0.25" >6</text>
<text transform="translate(250.63,970.85) scale(1.02,1)" font-size="13.8" text-anchor="middle" fill="#1e1e1e" stroke="#1e1e1e" stroke-width="0.25" >8</text>
<text transform="translate(282.67,970.85) scale(1.02,1)" font-size="13.8" text-anchor="middle" fill="#1e1e1e" stroke="#1e1e1e" stroke-width="0.25" >10</text>
<text transform="translate(314.70,970.85) scale(1.02,1)" font-size="13.8" text-anchor="middle" fill="#1e1e1e" stroke="#1e1e1e" stroke-width="0.25" >12</text>
<text transform="translate(346.73,970.85) scale(1.02,1)" font-size="13.8" text-anchor="middle" fill="#1e1e1e" stroke="#1e1e1e" stroke-width="0.25" >14</text>
<text transform="translate(378.77,970.85) scale(1.02,1)" font-size="13.8" text-anchor="middle" fill="#1e1e1e" stroke="#1e1e1e" stroke-width="0.25" >16</text>
<text transform="translate(410.80,970.85) scale(1.02,1)" font-size="13.8" text-anchor="middle" fill="#1e1e1e" stroke="#1e1e1e" stroke-width="0.25" >18</text>
<text transform="translate(442.83,970.85) scale(1.02,1)" font-size="13.8" text-anchor="middle" fill="#1e1e1e" stroke="#1e1e1e" stroke-width="0.25" >20</text>
<text transform="translate(474.87,970.85) scale(1.02,1)" font-size="13.8" text-anchor="middle" fill="#1e1e1e" stroke="#1e1e1e" stroke-width="0.25" >22</text>
<text transform="translate(506.90,970.85) scale(1.02,1)" font-size="13.8" text-anchor="middle" fill="#1e1e1e" stroke="#1e1e1e" stroke-width="0.25" >24</text>
<text transform="translate(538.93,970.85) scale(1.02,1)" font-size="13.8" text-anchor="middle" fill="#1e1e1e" stroke="#1e1e1e" stroke-width="0.25" >26</text>
<text transform="translate(570.97,970.85) scale(1.02,1)" font-size="13.8" text-anchor="middle" fill="#1e1e1e" stroke="#1e1e1e" stroke-width="0.25" >28</text>
<text transform="translate(597.60,970.95) scale(1.02,1)" font-size="13.8" text-anchor="start" fill="#1e1e1e" stroke="#1e1e1e" stroke-width="0.25" >Q[m<tspan font-size="8" dy="-4">3</tspan><tspan dy="4">/h]</tspan></text>
</svg>
</body></html>
